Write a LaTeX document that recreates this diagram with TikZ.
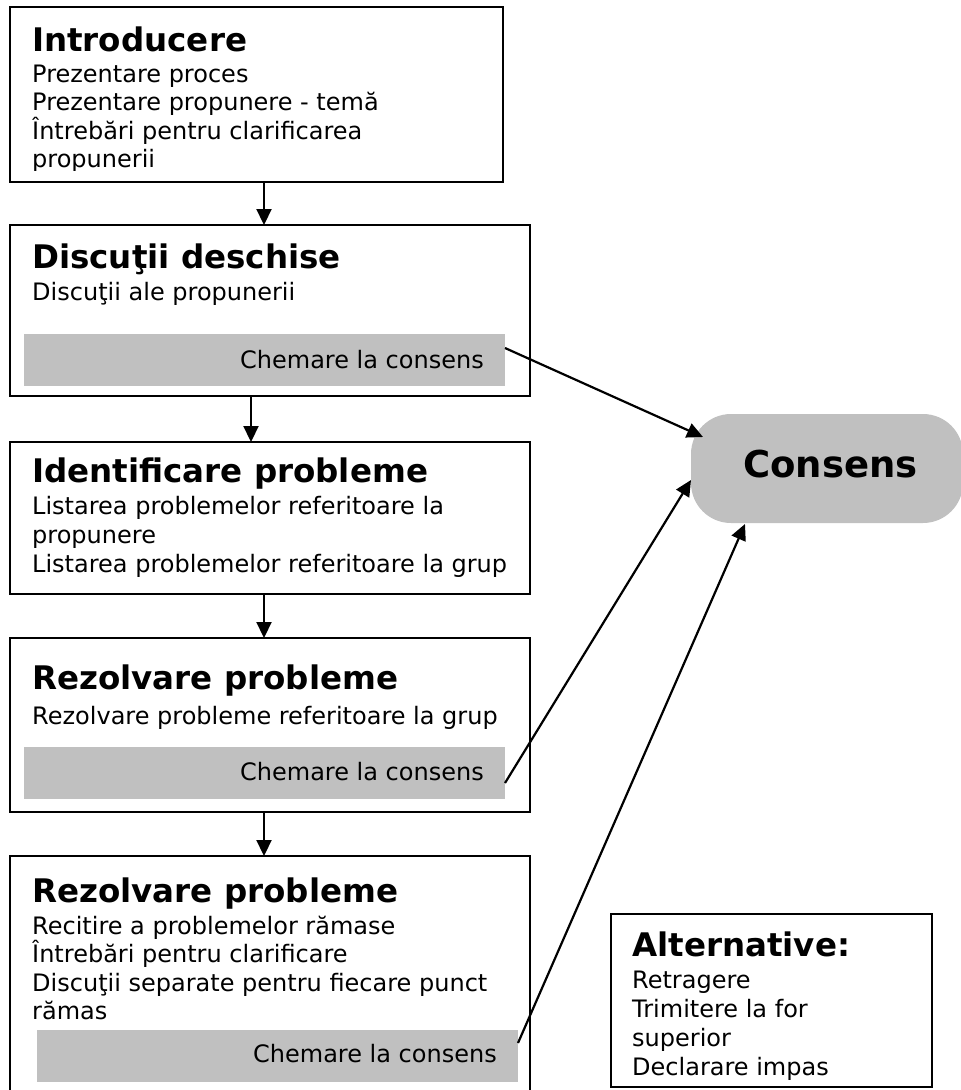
\documentclass[tikz,border=0pt]{standalone}
\usepackage{fontspec}
\setmainfont{DejaVu Sans}
\usetikzlibrary{arrows.meta}
\definecolor{bargray}{HTML}{C0C0C0}
\newcommand\ttlfont{\fontsize{32.5}{38}\selectfont\bfseries}
\newcommand\bodyfont{\fontsize{24}{28.5}\selectfont}
\newcommand\blines[2][28.5pt]{\vtop{\bodyfont\baselineskip=#1\lineskiplimit=-1000pt #2}}
\begin{document}
\begin{tikzpicture}[x=1pt,y=-1pt,
  box/.style={draw=black, line width=2.2pt, anchor=north west, inner sep=0pt, outer sep=0pt},
  bar/.style={fill=bargray, anchor=north west, inner sep=0pt, outer sep=0pt},
  ttl/.style={anchor=base west, inner sep=0pt, font=\ttlfont},
  txt/.style={anchor=base west, inner sep=0pt},
  rtxt/.style={anchor=base east, inner sep=0pt, font=\bodyfont},
  arr/.style={line width=2.2pt, -{Triangle[length=16pt,width=15pt]}},
]
\useasboundingbox (0,0) rectangle (961,1090);

% boxes
\node[box, minimum width=493pt, minimum height=175pt] (b1) at (10,7) {};
\node[box, minimum width=520pt, minimum height=171pt] (b2) at (10,225) {};
\node[box, minimum width=520pt, minimum height=152pt] (b3) at (10,442) {};
\node[box, minimum width=520pt, minimum height=174pt] (b4) at (10,638) {};
\node[box, minimum width=520pt, minimum height=240pt] (b5) at (10,856) {};
\node[box, minimum width=321pt, minimum height=173pt] (alt) at (611,914) {};

% grey bars
\node[bar, minimum width=481pt, minimum height=52pt] (bar2) at (24,334) {};
\node[bar, minimum width=481pt, minimum height=52pt] (bar4) at (24,747) {};
\node[bar, minimum width=481pt, minimum height=52pt] (bar5) at (37,1030) {};

% consens
\node[fill=bargray, rounded corners=40pt, anchor=north west, inner sep=0pt, outer sep=0pt,
      minimum width=272pt, minimum height=109pt] (cons) at (691,414) {};
\node[anchor=base west, inner sep=0pt, font=\fontsize{37}{42}\selectfont\bfseries] (consT) at (743,477) {Consens};

% box 1
\node[ttl] (b1t) at (32,51) {Introducere};
\begin{scope}
\clip (10,7) rectangle (503,170);
\node[txt] (b1b) at (32,82) {\blines{\hbox{Prezentare proces}\hbox{Prezentare propunere - temă}\hbox{Întrebări pentru clarificarea}\hbox{propunerii}}};
\end{scope}

% box 2
\node[ttl] (b2t) at (32,268) {Discuţii deschise};
\node[txt] (b2b) at (32,300) {\blines{\hbox{Discuţii ale propunerii}}};
\node[rtxt] (c2) at (484,368) {Chemare la consens};

% box 3
\node[ttl] (b3t) at (32,482) {Identificare probleme};
\node[txt] (b3b) at (32,514) {\blines[29pt]{\hbox{Listarea problemelor referitoare la}\hbox{propunere}\hbox{Listarea problemelor referitoare la grup}}};

% box 4
\node[ttl] (b4t) at (32,689) {Rezolvare probleme};
\node[txt] (b4b) at (32,724) {\blines{\hbox{Rezolvare probleme referitoare la grup}}};
\node[rtxt] (c4) at (484,780) {Chemare la consens};

% box 5
\node[ttl] (b5t) at (32,902) {Rezolvare probleme};
\node[txt] (b5b) at (32,934) {\blines{\hbox{Recitire a problemelor rămase}\hbox{Întrebări pentru clarificare}\hbox{Discuţii separate pentru fiecare punct}\hbox{rămas}}};
\node[rtxt] (c5) at (497,1062) {Chemare la consens};

% alternative
\node[ttl] (altt) at (632,956) {Alternative:};
\begin{scope}
\clip (611,914) rectangle (932,1080);
\node[txt] (altb) at (632,988) {\blines[29pt]{\hbox{Retragere}\hbox{Trimitere la for}\hbox{superior}\hbox{Declarare impas}}};
\end{scope}

% vertical arrows
\draw[arr] (264,0 |- b1.south) -- (264,0 |- b2.north);
\draw[arr] (251,0 |- b2.south) -- (251,0 |- b3.north);
\draw[arr] (264,0 |- b3.south) -- (264,0 |- b4.north);
\draw[arr] (264,0 |- b4.south) -- (264,0 |- b5.north);

% arrows to consens
\coordinate (t1) at (703,437);
\coordinate (t2) at (691,480);
\coordinate (t3) at (745,524);
\draw[arr] ([yshift=12pt]bar2.east) -- (t1);
\draw[arr] ([yshift=-10pt]bar4.east) -- (t2);
\draw[arr] ([yshift=13pt]bar5.east) -- (t3);
\end{tikzpicture}
\end{document}
